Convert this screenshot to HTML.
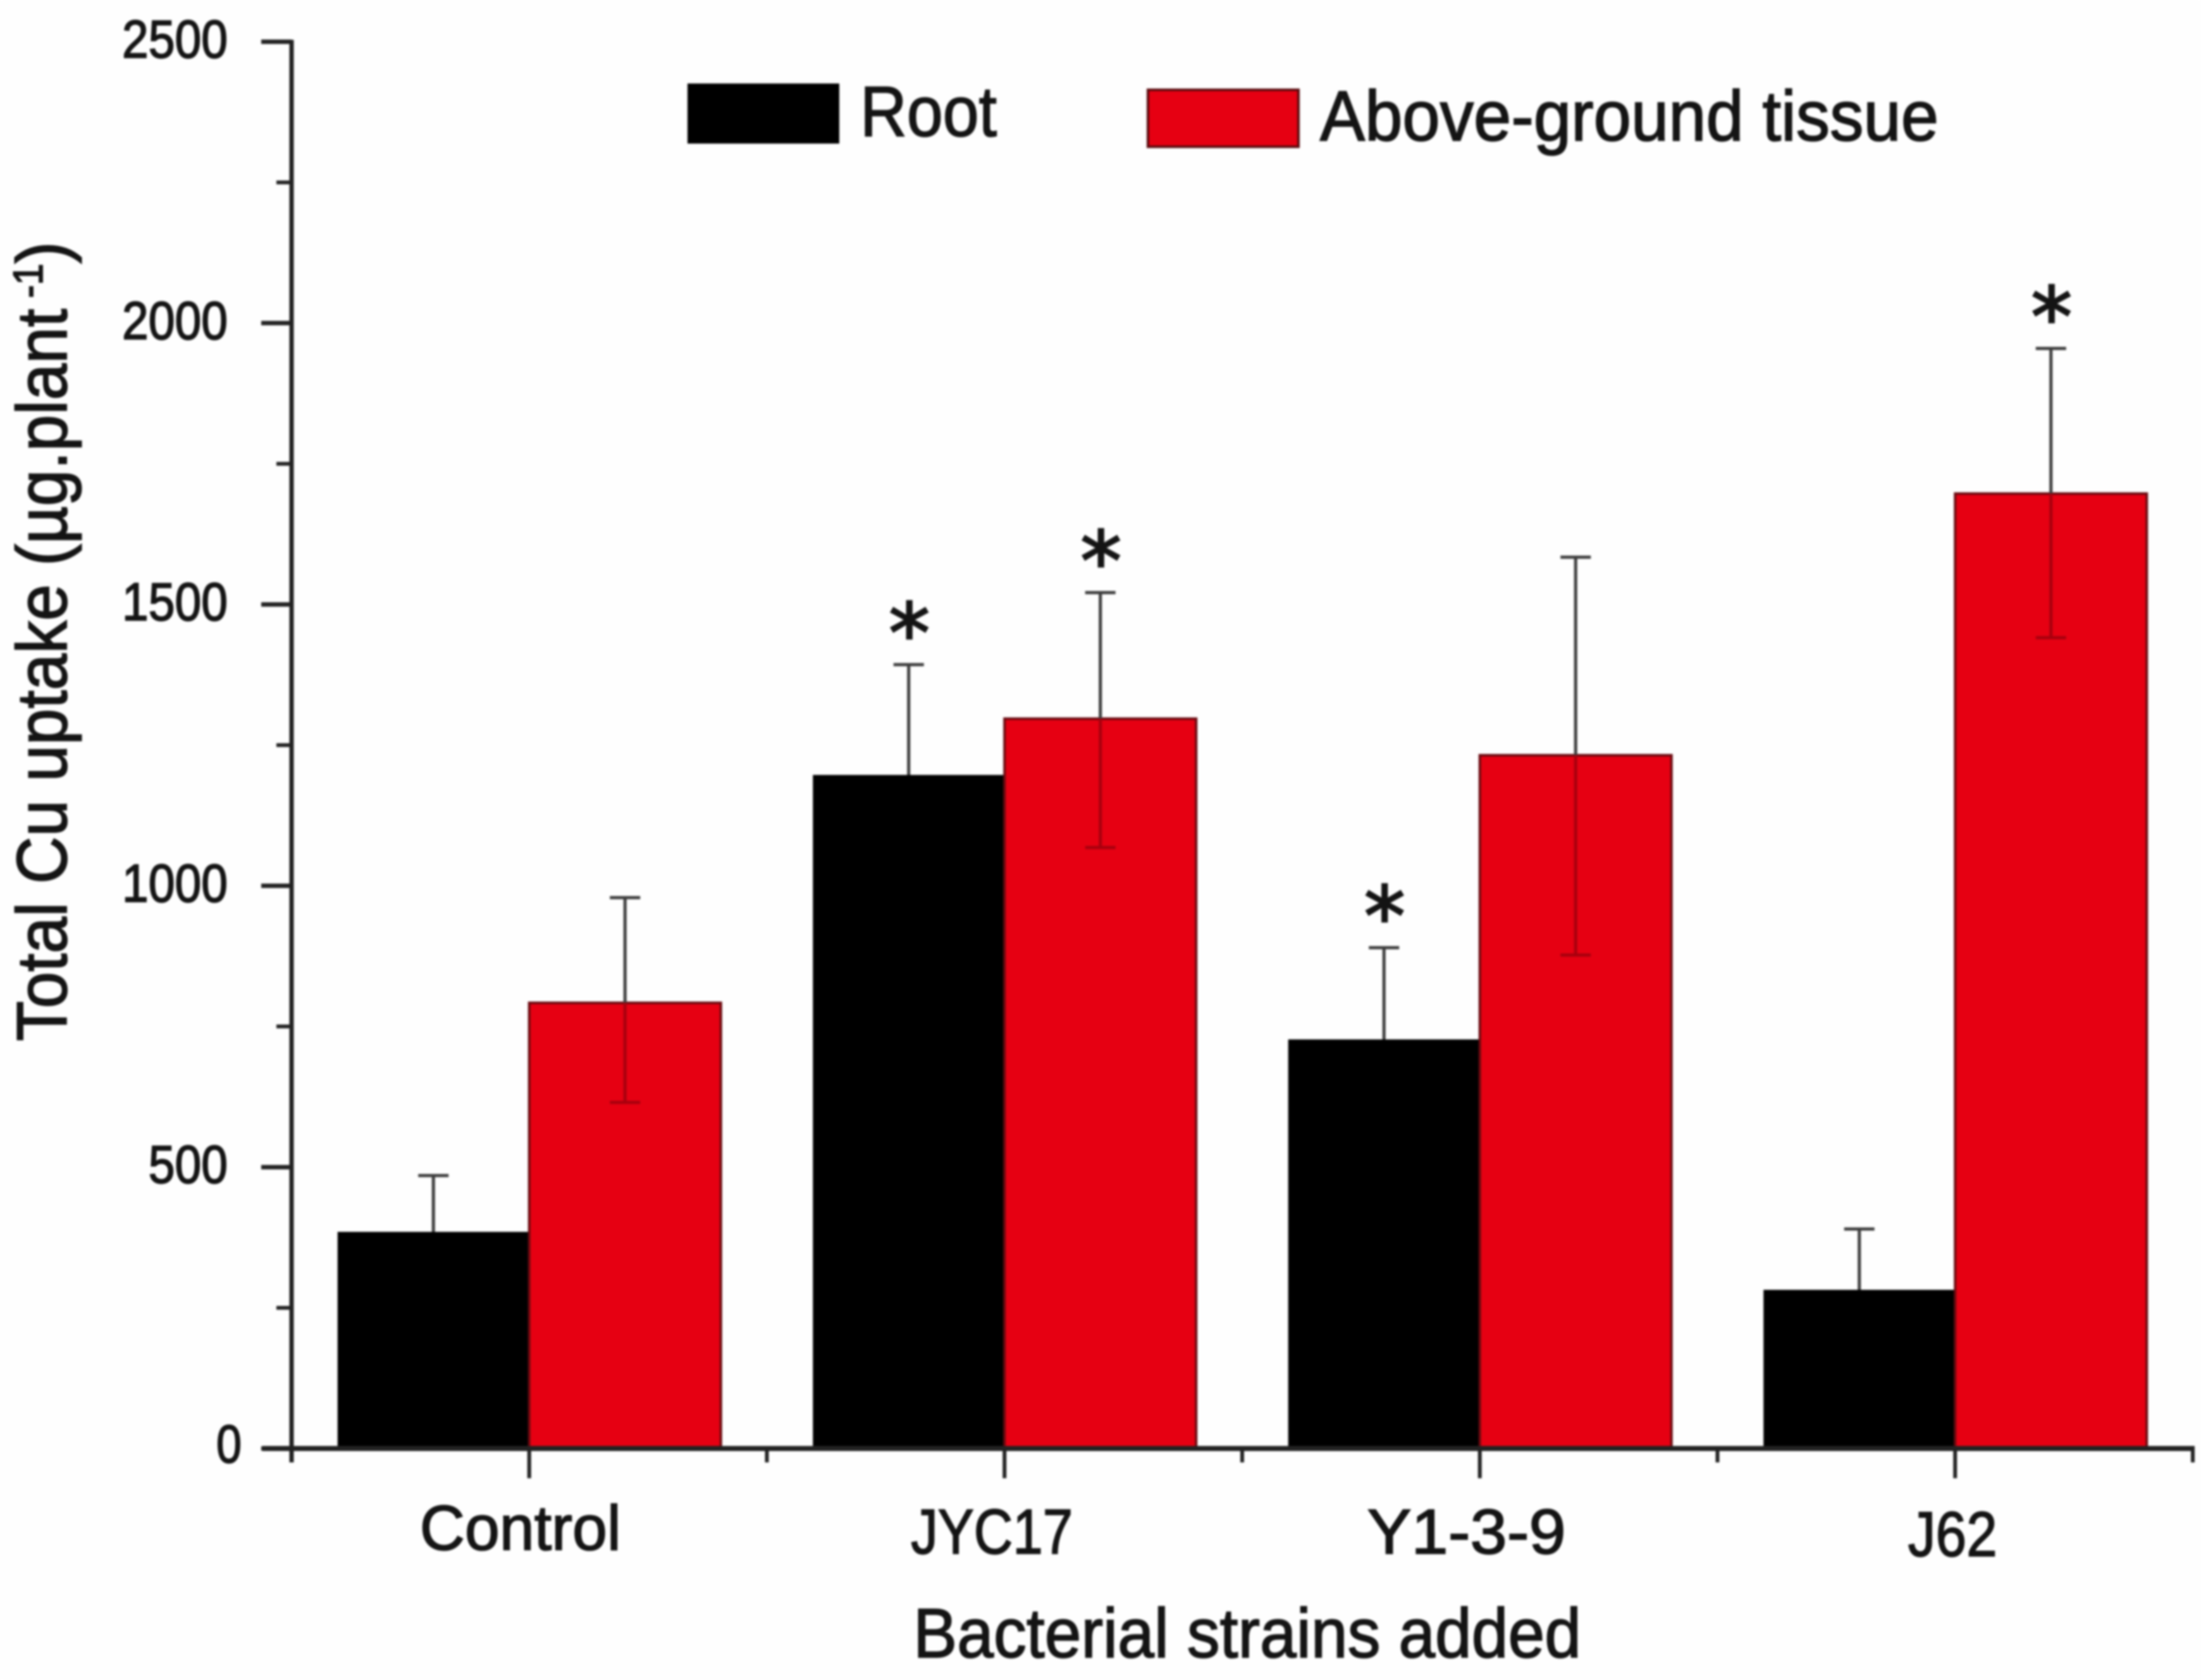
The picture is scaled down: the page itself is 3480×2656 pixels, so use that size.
<!DOCTYPE html>
<html lang="en">
<head>
<meta charset="utf-8">
<title>Total Cu uptake</title>
<style>
html,body{margin:0;padding:0;background:#fefefe;width:3480px;height:2656px;overflow:hidden}
svg{display:block;filter:blur(1.5px)}
text{font-family:"Liberation Sans",sans-serif;fill:#141414;stroke:#141414;stroke-width:2px}
</style>
</head>
<body>
<svg id="chart" xmlns="http://www.w3.org/2000/svg" width="3480" height="2656" viewBox="0 0 3480 2656">
  <rect x="0" y="0" width="3480" height="2656" fill="#fefefe"/>
  <g id="bars"></g>
  <g id="errors"></g>
  <g id="axes"></g>
  <g id="stars"></g>

  <text transform="translate(105,1646) rotate(-90)" font-size="112" textLength="1264" lengthAdjust="spacingAndGlyphs">Total Cu uptake (µg.plant<tspan font-size="66" dy="-38"> -1</tspan><tspan dy="38">)</tspan></text>
  <text x="1444" y="2620" font-size="110" textLength="1056" lengthAdjust="spacingAndGlyphs">Bacterial strains added</text>

  <g>
    <g>
      <rect x="1087" y="132" width="240" height="95" fill="#000"/>
      <text x="1360" y="215" font-size="112" textLength="216" lengthAdjust="spacingAndGlyphs">Root</text>
    </g>
    <g>
      <rect x="1815" y="142" width="238" height="90" fill="#e60012" stroke="#5a0a0e" stroke-width="4"/>
      <text x="2087" y="222" font-size="112" textLength="978" lengthAdjust="spacingAndGlyphs">Above-ground tissue</text>
    </g>
  </g>
</svg>
<script>
const categories = ["Control", "JYC17", "Y1-3-9", "J62"];
const rootValues = [385, 1197, 727, 282];
const aboveValues = [792, 1297, 1232, 1697];
const rootErrors = [100, 196, 163, 108];
const aboveErrors = [187, 224, 352, 258];
const aboveErrorsLower = [177, 229, 355, 256];
const rootStars = [false, true, true, false];
const aboveStars = [false, true, false, true];
const yTickLabels = [0, 500, 1000, 1500, 2000, 2500];
const yMinorTicks = [250, 750, 1250, 1750, 2250];

const NS = "http://www.w3.org/2000/svg";
const yScale = v => 2290 - v * 0.8896;
const xBandStart = i => 461 + 751.5 * i;
const xCenter = i => xBandStart(i) + 375.75;
const BAR_W = 303;

function make(tag, attrs, parent) {
  const el = document.createElementNS(NS, tag);
  for (const k in attrs) el.setAttribute(k, attrs[k]);
  parent.appendChild(el);
  return el;
}

const barsG = document.getElementById("bars");
const errG = document.getElementById("errors");
const axesG = document.getElementById("axes");
const starsG = document.getElementById("stars");

/* axes */
const yLine = make("line", {x1: 461, x2: 461, y1: yScale(2500) - 3, y2: 2312, stroke: "#222", "stroke-width": 7}, axesG);


const xLine = make("line", {x1: 415, x2: xBandStart(categories.length) + 3, y1: 2290, y2: 2290, stroke: "#222", "stroke-width": 8}, axesG);



yTickLabels.forEach(v => {
  const y = yScale(v);
  const tick = make("line", {x1: 413, x2: 461, y1: y, y2: y, stroke: "#222", "stroke-width": 7}, axesG);
  
  
  const s = String(v);
  const label = make("text", {
    x: v === 0 ? 382 : 360,
    y: v === 0 ? y + 22 : y + 25,
    "font-size": 84,
    "text-anchor": "end",
    textLength: s.length * (v === 0 ? 40 : 41.75),
    lengthAdjust: "spacingAndGlyphs"
  }, axesG);
  label.textContent = s;
  
  
});

yMinorTicks.forEach(v => {
  const y = yScale(v);
  const tick = make("line", {x1: 437, x2: 461, y1: y, y2: y, stroke: "#222", "stroke-width": 6}, axesG);
  
  
});

for (let i = 0; i <= categories.length; i++) {
  const x = xBandStart(i);
  const tick = make("line", {x1: x, x2: x, y1: 2290, y2: 2312, stroke: "#222", "stroke-width": 6}, axesG);
  
  
}

const catLabelWidths = [318, 256, 314, 141];
const catLabelBaselines = [2450, 2456, 2456, 2460];
const catLabelOffsets = [-14, -20, -21, -4];
categories.forEach((c, i) => {
  const cx = xCenter(i);
  const tick = make("line", {x1: cx, x2: cx, y1: 2290, y2: 2337, stroke: "#222", "stroke-width": 6}, axesG);
  
  
  const label = make("text", {
    x: cx + catLabelOffsets[i],
    y: catLabelBaselines[i],
    "font-size": 100,
    "text-anchor": "middle",
    textLength: catLabelWidths[i],
    lengthAdjust: "spacingAndGlyphs"
  }, axesG);
  label.textContent = c;
  
  
});

/* bars, error bars, stars */
function errorBar(x, value, errUp, errDown, lowColor) {
  const top = yScale(value + errUp), mid = yScale(value), bottom = yScale(value - errDown);
  const up = make("line", {x1: x, x2: x, y1: top, y2: mid, stroke: "#3c3c3c", "stroke-width": 5}, errG);
  
  
  const capTop = make("line", {x1: x - 24, x2: x + 24, y1: top, y2: top, stroke: "#3c3c3c", "stroke-width": 5}, errG);
  
  
  const low = make("line", {x1: x, x2: x, y1: mid, y2: bottom, stroke: lowColor, "stroke-width": 5}, errG);
  
  
  const capLow = make("line", {x1: x - 24, x2: x + 24, y1: bottom, y2: bottom, stroke: lowColor, "stroke-width": 5}, errG);
  
  
}

function star(x, value, err) {
  const t = make("text", {
    x: x + 1,
    y: yScale(value + err) - 72 + 68,
    "font-size": 130,
    "text-anchor": "middle"
  }, starsG);
  t.style.fontFamily = '"DejaVu Sans",sans-serif';
  t.style.strokeWidth = '3px';
  t.textContent = "*";
  
  
}

categories.forEach((c, i) => {
  const cx = xCenter(i);
  const rootBar = make("rect", {x: cx - BAR_W, y: yScale(rootValues[i]), width: BAR_W, height: 2292 - yScale(rootValues[i]), fill: "#000"}, barsG);
  
  
  const aboveBar = make("rect", {x: cx, y: yScale(aboveValues[i]), width: BAR_W, height: 2292 - yScale(aboveValues[i]), fill: "#e60012", stroke: "#6a0a10", "stroke-width": 4}, barsG);
  
  
  errorBar(cx - BAR_W / 2, rootValues[i], rootErrors[i], rootErrors[i], "#000");
  errorBar(cx + BAR_W / 2, aboveValues[i], aboveErrors[i], aboveErrorsLower[i], "#a8000e");
  if (rootStars[i]) star(cx - BAR_W / 2, rootValues[i], rootErrors[i]);
  if (aboveStars[i]) star(cx + BAR_W / 2, aboveValues[i], aboveErrors[i]);
});
</script>
</body>
</html>
